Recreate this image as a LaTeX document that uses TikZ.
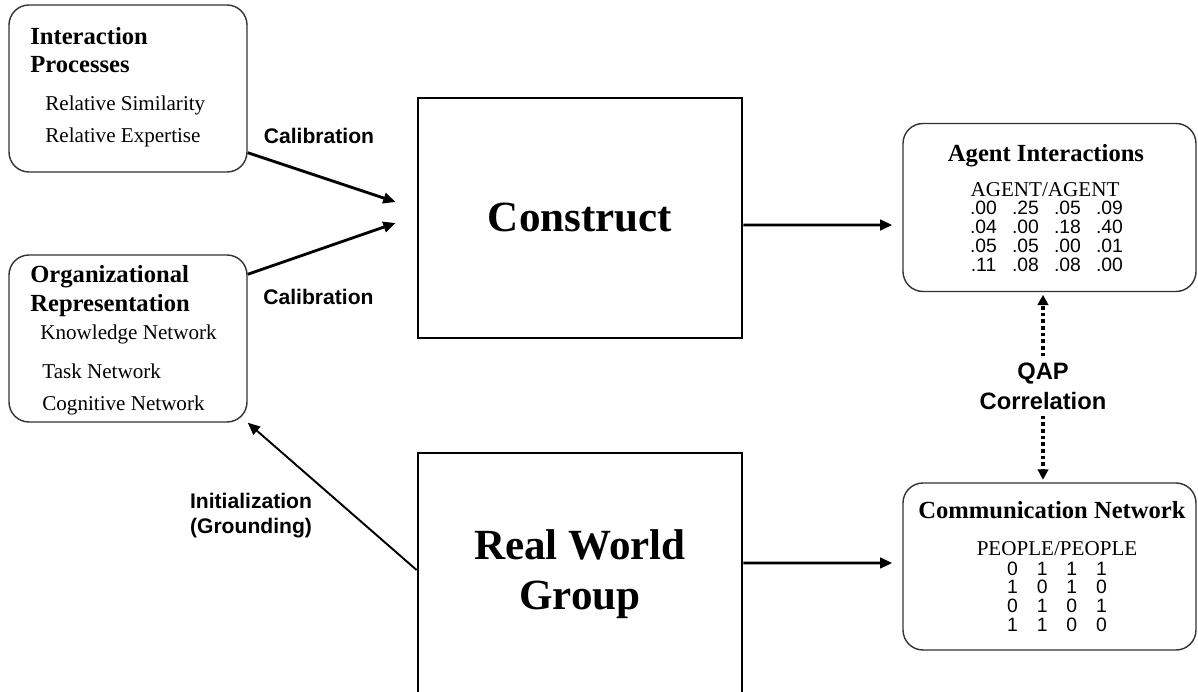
\documentclass[tikz,border=0pt]{standalone}
\usepackage{fontspec}
\setmainfont{Liberation Serif}
\newfontfamily\arialfont{Liberation Sans}
\usetikzlibrary{arrows.meta}

\begin{document}
\begin{tikzpicture}[
    rbox/.style={draw=black!80, line width=0.8pt, rounded corners=0.4cm, minimum width=4.76cm, minimum height=3.34cm},
    mbox/.style={draw=black!80, line width=0.8pt, rounded corners=0.4cm, minimum width=5.86cm, minimum height=3.36cm},
    sqbox/.style={draw, line width=1.6pt, minimum width=6.48cm, align=center, font=\fontsize{24.5}{28.5}\selectfont\bfseries},
    ttl/.style={anchor=base west, inner sep=0pt, font=\fontsize{14}{16}\selectfont\bfseries},
    itm/.style={anchor=base west, inner sep=0pt, font=\fontsize{12}{14}\selectfont},
    ctr/.style={anchor=base, inner sep=0pt},
    mtx/.style={anchor=base, inner sep=0pt, font=\arialfont\fontsize{11}{10.4}\selectfont},
    lbl/.style={align=center, font=\arialfont\fontsize{12}{14.2}\selectfont\bfseries},
    arr/.style={-{Triangle[length=7pt,width=6pt]}, line width=1.6pt},
    dotarr/.style={-{Triangle[length=6pt,width=6pt]}, line width=2.2pt, dash pattern=on 2.2pt off 1.6pt}
]
    \useasboundingbox (0,0) rectangle (23.96,13.82);

    % left side boxes
    \node[rbox] (ip) at (2.56,12.05) {};
    \node[ttl] (ipa) at (0.6,12.92) {Interaction};
    \node[ttl] (ipb) at (0.6,12.36) {Processes};
    \node[itm] (ipc) at (0.9,11.6) {Relative Similarity};
    \node[itm] (ipd) at (0.9,10.96) {Relative Expertise};

    \node[rbox] (org) at (2.56,7.05) {};
    \node[ttl] (orga) at (0.6,8.16) {Organizational};
    \node[ttl] (orgb) at (0.6,7.58) {Representation};
    \node[itm] (orgc) at (0.8,7.02) {Knowledge Network};
    \node[itm] (orgd) at (0.84,6.26) {Task Network};
    \node[itm] (orge) at (0.84,5.62) {Cognitive Network};

    % middle
    \node[sqbox, minimum height=4.8cm] (con) at (11.6,9.46) {Construct};
    \node[sqbox, minimum height=4.84cm] (rwg) at (11.6,2.34) {Real World\\Group};

    % right side boxes
    \node[mbox] (ai) at (20.99,9.67) {};
    \node[ctr, font=\fontsize{14}{16}\selectfont\bfseries] (aia) at (20.92,10.58) {Agent Interactions};
    \node[ctr, font=\fontsize{12}{14}\selectfont] (aib) at (20.9,9.88) {AGENT/AGENT};
    \node[mtx] (aic) at (20.93,9.52) {\begin{tabular}[t]{@{}*{3}{c@{\hspace{8.6pt}}}c@{}}
        .00 & .25 & .05 & .09\\
        .04 & .00 & .18 & .40\\
        .05 & .05 & .00 & .01\\
        .11 & .08 & .08 & .00
    \end{tabular}};

    \node[mbox, minimum height=3.34cm] (cn) at (20.99,2.49) {};
    \node[ctr, font=\fontsize{14}{16}\selectfont\bfseries] (cna) at (21.04,3.46) {Communication Network};
    \node[ctr, font=\fontsize{12}{14}\selectfont] (cnb) at (21.14,2.72) {PEOPLE/PEOPLE};
    \node[mtx] (cnc) at (21.14,2.32) {\begin{tabular}[t]{@{}*{3}{c@{\hspace{10.8pt}}}c@{}}
        0 & 1 & 1 & 1\\
        1 & 0 & 1 & 0\\
        0 & 1 & 0 & 1\\
        1 & 1 & 0 & 0
    \end{tabular}};

    % labels
    \node[lbl, anchor=base] (cal1) at (6.38,10.94) {Calibration};
    \node[lbl, anchor=base] (cal2) at (6.37,7.72) {Calibration};
    \node[lbl] (init) at (5.02,3.51) {Initialization\\(Grounding)};
    \node[lbl, font=\arialfont\fontsize{13.5}{17}\selectfont\bfseries] (qap) at (20.86,6.1) {QAP\\Correlation};

    % arrows
    \draw[arr] ([yshift=4mm]ip.south east) -- ([xshift=-4.2mm,yshift=3.2mm]con.west);
    \draw[arr] ([yshift=-4mm]org.north east) -- ([xshift=-4.2mm,yshift=-1mm]con.west);
    \draw[arr, line width=1.1pt] ([yshift=0.8mm]rwg.west) -- (org.south east);
    \draw[arr] ([yshift=-1.4mm]con.east) -- ([xshift=-2mm,yshift=-3.5mm]ai.west);
    \draw[arr] ([yshift=2.2mm]rwg.east) -- ([xshift=-2mm,yshift=0.7mm]cn.west);
    \draw[dotarr, shorten >=0.5mm] (qap.north) -- (qap.north |- ai.south);
    \draw[dotarr, shorten >=0.5mm] (qap.south) -- (qap.south |- cn.north);
\end{tikzpicture}
\end{document}
